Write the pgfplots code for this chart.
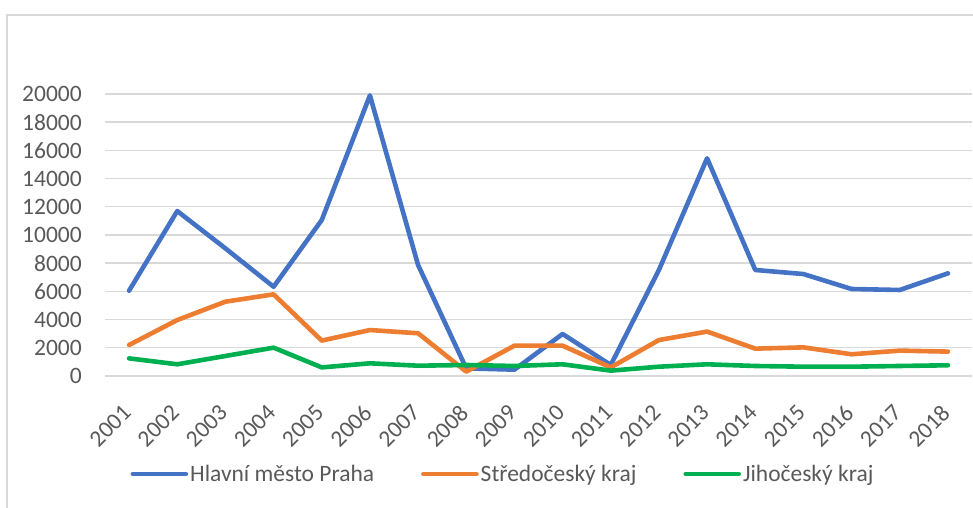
\documentclass[border=0pt]{standalone}
\usepackage{pgfplots}
\pgfplotsset{compat=1.18}
\usepackage{fontspec}
\setmainfont{Carlito}
\definecolor{cblue}{HTML}{4472C4}
\definecolor{corange}{HTML}{ED7D31}
\definecolor{cgreen}{HTML}{00B050}
\definecolor{cgrid}{HTML}{D9D9D9}
\definecolor{ctext}{HTML}{595959}
\begin{document}
\begin{tikzpicture}
\useasboundingbox (0bp,0bp) rectangle (973bp,508bp);
\draw[cgrid, line width=1.5bp] (7bp,0bp) -- (7bp,493bp) -- (973bp,493bp);
\begin{axis}[
  at={(105bp,132bp)}, anchor=south west,
  scale only axis, width=867bp, height=282bp,
  xmin=2000.5, xmax=2018.5, ymin=0, ymax=20000,
  xtick={2001,...,2018}, ytick={0,2000,...,20000},
  axis line style={draw=none}, major tick length=0pt,
  ymajorgrids, grid style={cgrid, line width=1.4bp},
  font=\fontsize{23.5bp}{28bp}\selectfont, text=ctext,
  /pgf/number format/assume math mode=true,
  /pgf/number format/1000 sep={},
  scaled y ticks=false,
  yticklabel style={anchor=east, inner sep=0pt, xshift=-23bp, text=ctext},
  xticklabel style={xshift=-2bp, yshift=-33bp, rotate=45, anchor=east, inner sep=0pt, text=ctext},
  legend columns=3,
  legend style={at={(0.4590,-0.3475)}, anchor=center, draw=none, fill=none,
    font=\fontsize{23.5bp}{28bp}\selectfont, text=ctext,
    nodes={inner sep=2bp},
    /tikz/every even column/.append style={column sep=45bp}},
  legend image code/.code={\draw[#1, line cap=round] (0bp,0bp) -- (53bp,0bp);},
  every axis plot/.append style={line width=4.6bp, line join=round, line cap=round, mark=none},
]
\addplot[cblue] coordinates {
(2001,6050) (2002,11700) (2003,9050) (2004,6330) (2005,11060) (2006,19900)
(2007,7870) (2008,540) (2009,450) (2010,2980) (2011,780) (2012,7520)
(2013,15440) (2014,7520) (2015,7230) (2016,6170) (2017,6100) (2018,7280)};
\addlegendentry{Hlavní město Praha}
\addplot[corange] coordinates {
(2001,2200) (2002,3970) (2003,5270) (2004,5790) (2005,2510) (2006,3260)
(2007,3030) (2008,310) (2009,2150) (2010,2150) (2011,610) (2012,2550)
(2013,3150) (2014,1940) (2015,2030) (2016,1540) (2017,1800) (2018,1730)};
\addlegendentry{Středočeský kraj}
\addplot[cgreen] coordinates {
(2001,1250) (2002,830) (2003,1420) (2004,2010) (2005,610) (2006,900)
(2007,730) (2008,780) (2009,710) (2010,830) (2011,380) (2012,660)
(2013,830) (2014,710) (2015,660) (2016,660) (2017,710) (2018,760)};
\addlegendentry{Jihočeský kraj}
\end{axis}
\end{tikzpicture}
\end{document}
